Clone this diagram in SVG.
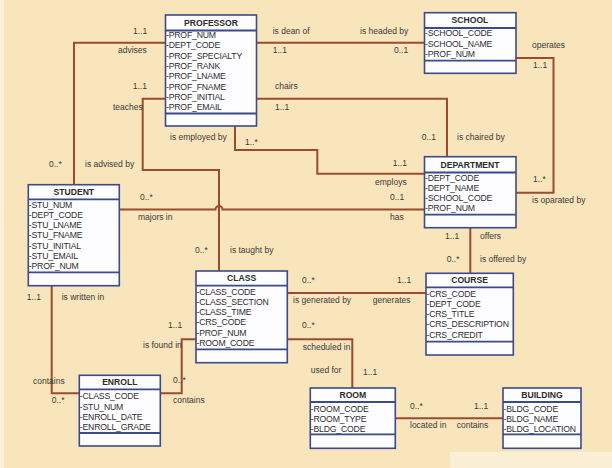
<svg xmlns="http://www.w3.org/2000/svg" width="612" height="468" viewBox="0 0 612 468">
<style>
.box{fill:#fdfdff;stroke:#3b4a8a;stroke-width:1.6}
.sep{stroke:#3b4a8a;stroke-width:1.8}
.t{font-family:"Liberation Sans",Arial,sans-serif;font-size:8.6px;font-weight:bold;fill:#2a2a2a;text-anchor:middle}
.a{font-family:"Liberation Sans",Arial,sans-serif;font-size:8.7px;letter-spacing:-0.2px;fill:#2e2e2e}
.l{font-family:"Liberation Sans",Arial,sans-serif;font-size:8.5px;fill:#3a3a3a}
.c{fill:none;stroke:#9a4b30;stroke-width:2}
</style>
<rect x="0" y="0" width="612" height="468" fill="#f9e5bc"/>
<rect x="0" y="0" width="4" height="468" fill="#fcf0d8"/>
<rect x="450" y="452" width="162" height="16" fill="#fbefd6"/>

<g id="connectors">
<path class="c" d="M165.5,42.7 H74 V184.7"/>
<path class="c" d="M165.5,98.7 H142.7 V170 H219 V271"/>
<path class="c" d="M257,42.7 H424.5"/>
<path class="c" d="M257,98.7 H447 V156.7"/>
<path class="c" d="M235,126 V150 H317.3 V173.7 H424.5"/>
<path class="c" d="M516,58 H553.5 V192.7 H516"/>
<path class="c" d="M119.3,209.5 H215.5 a3.5,3.5 0 0 1 7,0 H424.5"/>
<path class="c" d="M470.3,227.7 V273.3"/>
<path class="c" d="M287.3,293 H426"/>
<path class="c" d="M196,339.3 H181.7 V393.3 H160.3"/>
<path class="c" d="M51.7,285.7 V393.3 H79.3"/>
<path class="c" d="M287.3,339.3 H352.3 V388"/>
<path class="c" d="M395.3,418.3 H503"/>
</g>

<g id="labels">
<text class="l" x="133" y="34">1..1</text>
<text class="l" x="118" y="53">advises</text>
<text class="l" x="49" y="167">0..*</text>
<text class="l" x="85" y="167">is advised by</text>
<text class="l" x="132.7" y="89">1..1</text>
<text class="l" x="113" y="110">teaches</text>
<text class="l" x="272.7" y="34">is dean of</text>
<text class="l" x="272.7" y="53">1..1</text>
<text class="l" x="360" y="34">is headed by</text>
<text class="l" x="394" y="53">0..1</text>
<text class="l" x="275" y="89">chairs</text>
<text class="l" x="275" y="110">1..1</text>
<text class="l" x="421.7" y="140">0..1</text>
<text class="l" x="457" y="140">is chaired by</text>
<text class="l" x="170" y="140">is employed by</text>
<text class="l" x="245" y="145">1..*</text>
<text class="l" x="392.7" y="165.5">1..1</text>
<text class="l" x="375" y="185">employs</text>
<text class="l" x="532" y="48">operates</text>
<text class="l" x="533" y="68">1..1</text>
<text class="l" x="533" y="182">1..*</text>
<text class="l" x="532" y="202.5">is oparated by</text>
<text class="l" x="140" y="200">0..*</text>
<text class="l" x="138" y="220">majors in</text>
<text class="l" x="390" y="200">0..1</text>
<text class="l" x="390" y="220">has</text>
<text class="l" x="445" y="239">1..1</text>
<text class="l" x="480" y="239">offers</text>
<text class="l" x="446.7" y="262">0..*</text>
<text class="l" x="480" y="262">is offered by</text>
<text class="l" x="195" y="253">0..*</text>
<text class="l" x="230" y="253">is taught by</text>
<text class="l" x="302" y="283">0..*</text>
<text class="l" x="397" y="283">1..1</text>
<text class="l" x="293" y="303">is generated by</text>
<text class="l" x="372.7" y="303">generates</text>
<text class="l" x="168" y="328">1..1</text>
<text class="l" x="143" y="347.5">is found in</text>
<text class="l" x="173" y="383">0..*</text>
<text class="l" x="173" y="403">contains</text>
<text class="l" x="26.7" y="300">1..1</text>
<text class="l" x="61.7" y="300">is written in</text>
<text class="l" x="33" y="384">contains</text>
<text class="l" x="51.7" y="403">0..*</text>
<text class="l" x="302" y="328">0..*</text>
<text class="l" x="302.7" y="350">scheduled in</text>
<text class="l" x="310.7" y="373">used for</text>
<text class="l" x="363" y="375">1..1</text>
<text class="l" x="410" y="409">0..*</text>
<text class="l" x="410" y="428">located in</text>
<text class="l" x="474" y="409">1..1</text>
<text class="l" x="456.7" y="428">contains</text>
</g>

<g id="professor">
<rect class="box" x="165.5" y="15" width="91" height="111"/>
<line class="sep" x1="165.5" y1="30.5" x2="256.5" y2="30.5"/>
<line class="sep" x1="165.5" y1="113.5" x2="256.5" y2="113.5"/>
<text class="t" x="211" y="25.5">PROFESSOR</text>
<text class="a" x="166" y="38">-PROF_NUM</text>
<text class="a" x="166" y="48.3">-DEPT_CODE</text>
<text class="a" x="166" y="58.6">-PROF_SPECIALTY</text>
<text class="a" x="166" y="68.9">-PROF_RANK</text>
<text class="a" x="166" y="79.2">-PROF_LNAME</text>
<text class="a" x="166" y="89.5">-PROF_FNAME</text>
<text class="a" x="166" y="99.8">-PROF_INITIAL</text>
<text class="a" x="166" y="110.1">-PROF_EMAIL</text>
</g>

<g id="school">
<rect class="box" x="424.5" y="12.7" width="91.5" height="60.6"/>
<line class="sep" x1="424.5" y1="28" x2="516" y2="28"/>
<line class="sep" x1="424.5" y1="60.7" x2="516" y2="60.7"/>
<text class="t" x="470" y="23.3">SCHOOL</text>
<text class="a" x="425" y="36.2">-SCHOOL_CODE</text>
<text class="a" x="425" y="46.5">-SCHOOL_NAME</text>
<text class="a" x="425" y="56.8">-PROF_NUM</text>
</g>

<g id="department">
<rect class="box" x="424.5" y="156.7" width="91.5" height="71"/>
<line class="sep" x1="424.5" y1="172.5" x2="516" y2="172.5"/>
<line class="sep" x1="424.5" y1="214.7" x2="516" y2="214.7"/>
<text class="t" x="470" y="167.8">DEPARTMENT</text>
<text class="a" x="425" y="180.5">-DEPT_CODE</text>
<text class="a" x="425" y="190.6">-DEPT_NAME</text>
<text class="a" x="425" y="200.8">-SCHOOL_CODE</text>
<text class="a" x="425" y="211">-PROF_NUM</text>
</g>

<g id="student">
<rect class="box" x="28.3" y="184.7" width="91" height="101"/>
<line class="sep" x1="28.3" y1="199.3" x2="119.3" y2="199.3"/>
<line class="sep" x1="28.3" y1="272.3" x2="119.3" y2="272.3"/>
<text class="t" x="73.8" y="195">STUDENT</text>
<text class="a" x="28.8" y="207.5">-STU_NUM</text>
<text class="a" x="28.8" y="217.8">-DEPT_CODE</text>
<text class="a" x="28.8" y="228.1">-STU_LNAME</text>
<text class="a" x="28.8" y="238.4">-STU_FNAME</text>
<text class="a" x="28.8" y="248.7">-STU_INITIAL</text>
<text class="a" x="28.8" y="259">-STU_EMAIL</text>
<text class="a" x="28.8" y="269.3">-PROF_NUM</text>
</g>

<g id="class">
<rect class="box" x="196" y="271" width="91.3" height="91.7"/>
<line class="sep" x1="196" y1="285.7" x2="287.3" y2="285.7"/>
<line class="sep" x1="196" y1="349.3" x2="287.3" y2="349.3"/>
<text class="t" x="241.6" y="281.4">CLASS</text>
<text class="a" x="196.5" y="294.5">-CLASS_CODE</text>
<text class="a" x="196.5" y="304.8">-CLASS_SECTION</text>
<text class="a" x="196.5" y="315.1">-CLASS_TIME</text>
<text class="a" x="196.5" y="325.4">-CRS_CODE</text>
<text class="a" x="196.5" y="335.7">-PROF_NUM</text>
<text class="a" x="196.5" y="346">-ROOM_CODE</text>
</g>

<g id="course">
<rect class="box" x="426" y="273.3" width="87.3" height="81.7"/>
<line class="sep" x1="426" y1="287.3" x2="513.3" y2="287.3"/>
<line class="sep" x1="426" y1="341.7" x2="513.3" y2="341.7"/>
<text class="t" x="469.6" y="283.4">COURSE</text>
<text class="a" x="426.5" y="296.5">-CRS_CODE</text>
<text class="a" x="426.5" y="306.8">-DEPT_CODE</text>
<text class="a" x="426.5" y="317.1">-CRS_TITLE</text>
<text class="a" x="426.5" y="327.4">-CRS_DESCRIPTION</text>
<text class="a" x="426.5" y="337.7">-CRS_CREDIT</text>
</g>

<g id="enroll">
<rect class="box" x="79.3" y="375.3" width="81" height="70.7"/>
<line class="sep" x1="79.3" y1="389.3" x2="160.3" y2="389.3"/>
<line class="sep" x1="79.3" y1="433" x2="160.3" y2="433"/>
<text class="t" x="119.8" y="385.4">ENROLL</text>
<text class="a" x="79.8" y="399.2">-CLASS_CODE</text>
<text class="a" x="79.8" y="409.5">-STU_NUM</text>
<text class="a" x="79.8" y="419.8">-ENROLL_DATE</text>
<text class="a" x="79.8" y="430">-ENROLL_GRADE</text>
</g>

<g id="room">
<rect class="box" x="310.3" y="388" width="85" height="60.3"/>
<line class="sep" x1="310.3" y1="402" x2="395.3" y2="402"/>
<line class="sep" x1="310.3" y1="434.3" x2="395.3" y2="434.3"/>
<text class="t" x="352.8" y="398.1">ROOM</text>
<text class="a" x="310.8" y="411.9">-ROOM_CODE</text>
<text class="a" x="310.8" y="422">-ROOM_TYPE</text>
<text class="a" x="310.8" y="432">-BLDG_CODE</text>
</g>

<g id="building">
<rect class="box" x="503" y="388" width="78" height="60.3"/>
<line class="sep" x1="503" y1="402" x2="581" y2="402"/>
<line class="sep" x1="503" y1="434.3" x2="581" y2="434.3"/>
<text class="t" x="542" y="398.1">BUILDING</text>
<text class="a" x="503.5" y="411.9">-BLDG_CODE</text>
<text class="a" x="503.5" y="422">-BLDG_NAME</text>
<text class="a" x="503.5" y="432">-BLDG_LOCATION</text>
</g>
</svg>
